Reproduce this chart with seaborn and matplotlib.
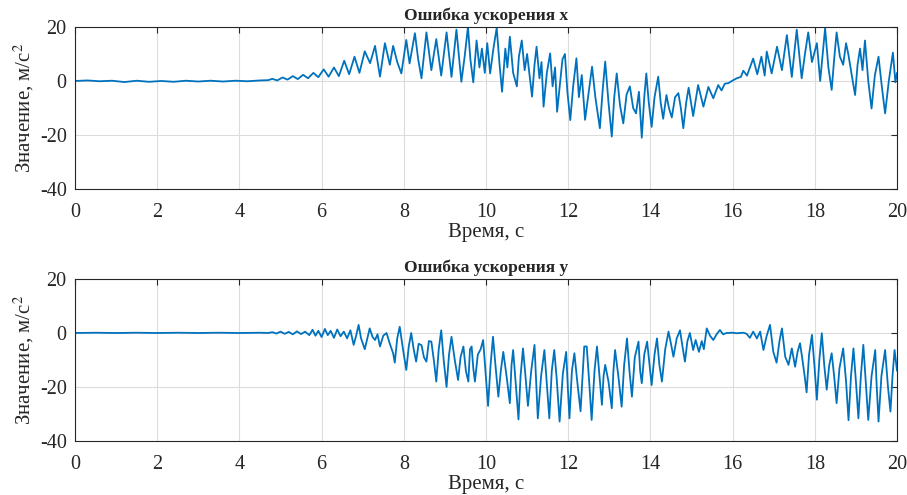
# plot.py
# Ошибка ускорения по осям x и y, две панели в стиле MATLAB

import numpy as np
import pandas as pd
import matplotlib
matplotlib.use("Agg")
import matplotlib.pyplot as plt
import seaborn as sns

# Ошибка ускорения x: пары (время, значение)
err_x_calm = [(0, 0.0), (0.3, 0.2), (0.6, -0.1), (0.9, 0.1), (1.2, -0.4), (1.5, 0.1),
              (1.8, -0.3), (2.1, 0.0), (2.4, -0.3), (2.7, 0.1), (3.0, -0.2), (3.3, 0.1),
              (3.6, -0.2), (3.9, 0.1), (4.2, -0.1), (4.5, 0.2), (4.7, 0.3)]
err_x_rise = [(4.8, 0.8), (4.92, 0.2), (5.05, 1.3), (5.17, 0.5), (5.3, 1.8), (5.42, 0.7),
              (5.55, 2.3), (5.67, 1.0), (5.8, 3.0), (5.92, 1.4), (6.05, 4.3), (6.17, 1.6),
              (6.3, 5.0), (6.42, 1.8), (6.55, 7.5), (6.67, 2.5), (6.8, 9.0), (6.92, 3.0),
              (7.05, 11.0), (7.18, 6.6), (7.3, 13.0), (7.42, 1.6), (7.54, 14.0), (7.66, 6.0),
              (7.74, 13.0), (7.84, 7.0), (7.94, 2.8), (8.06, 15.2), (8.14, 6.5), (8.27, 17.7),
              (8.35, 8.0), (8.43, 1.0), (8.55, 18.0), (8.67, 4.0), (8.79, 15.5), (8.91, 2.0),
              (9.04, 18.0), (9.16, 1.5), (9.28, 19.0), (9.4, -0.3), (9.48, 9.0), (9.56, 20.0)]
err_x_fall = [(9.62, 8.0), (9.69, -0.5), (9.77, 15.0), (9.84, 5.0), (9.9, 12.0), (9.97, 3.0),
              (10.03, 14.0), (10.1, 2.8), (10.18, 12.0), (10.26, 19.7), (10.33, 6.0),
              (10.39, -4.0), (10.47, 12.0), (10.52, 5.0), (10.58, 16.4), (10.66, 3.0),
              (10.75, -2.0), (10.8, 9.0), (10.87, 15.0), (10.94, 4.0), (11.0, 10.0),
              (11.06, 2.0), (11.12, -5.8), (11.18, 6.0), (11.23, 12.7), (11.3, 1.0),
              (11.35, 7.0), (11.4, -9.5), (11.48, 3.0), (11.56, 10.2), (11.62, -2.0),
              (11.68, 5.0), (11.73, -11.4), (11.8, -1.0), (11.86, 8.0), (11.92, 10.0),
              (11.98, -4.0), (12.05, -14.5), (12.12, -2.0), (12.2, 8.4), (12.26, -6.0),
              (12.33, 2.2), (12.41, -14.4), (12.5, -4.0), (12.58, 5.3), (12.66, -6.0),
              (12.77, -17.5), (12.84, -3.0), (12.9, 7.2), (12.98, -8.0), (13.06, -20.6),
              (13.12, -6.0), (13.18, 2.8), (13.26, -9.0), (13.34, -15.7), (13.42, -5.0),
              (13.5, -2.0), (13.58, -10.0), (13.65, -12.0), (13.72, -4.0), (13.79, -21.0),
              (13.85, -6.0), (13.9, 2.8), (13.96, -8.0), (14.03, -17.0), (14.1, -6.0),
              (14.19, 1.6), (14.25, -8.0), (14.31, -14.0), (14.39, -5.2), (14.45, -10.0),
              (14.52, -13.5), (14.6, -6.0), (14.68, -4.5), (14.74, -10.0), (14.8, -17.5),
              (14.87, -8.0), (14.93, -2.5), (15.04, -13.0), (15.16, -1.5), (15.29, -9.5),
              (15.41, -2.2), (15.53, -6.4), (15.65, -1.5), (15.73, -3.5), (15.81, -1.0),
              (15.9, -0.8), (15.98, 0.0)]
err_x_end = [(16.1, 1.0), (16.2, 1.5), (16.26, 3.8), (16.35, 2.0), (16.5, 8.3), (16.6, 2.5),
             (16.7, 9.0), (16.78, 2.0), (16.83, 10.9), (16.95, 2.8), (17.08, 12.7),
             (17.2, 4.0), (17.32, 17.0), (17.44, 1.5), (17.56, 19.0), (17.68, 1.0),
             (17.76, 10.0), (17.84, 18.0), (17.93, 7.0), (18.05, 14.0), (18.13, 0.0),
             (18.25, 19.5), (18.33, 5.0), (18.41, -3.3), (18.47, 8.0), (18.53, 18.0),
             (18.61, 9.0), (18.69, 6.0), (18.76, 14.0), (18.82, 9.5), (18.9, 2.0),
             (18.98, -5.2), (19.04, 6.0), (19.1, 12.0), (19.16, 4.0), (19.22, 15.0),
             (19.3, 0.0), (19.38, -10.2), (19.46, 2.0), (19.55, 9.0), (19.63, -2.0),
             (19.71, -12.0), (19.8, 0.0), (19.9, 10.5), (19.96, -0.5), (20.0, 3.0)]

# Ошибка ускорения y
err_y_calm = [(0, 0.0), (0.5, 0.1), (1.0, 0.0), (1.5, 0.1), (2.0, 0.0), (2.5, 0.1),
              (3.0, 0.0), (3.5, 0.1), (4.0, 0.0), (4.5, 0.1), (4.7, 0.0), (4.8, 0.3),
              (4.9, -0.2), (5.0, 0.5), (5.1, -0.3), (5.2, 0.4), (5.3, -0.5), (5.4, 0.6),
              (5.5, -0.4), (5.6, 0.5), (5.7, -0.8)]
err_y_rise = [(5.78, 1.2), (5.85, -1.0), (5.92, 0.8), (6.0, -1.5), (6.08, 1.5), (6.15, -0.8),
              (6.22, 0.8), (6.3, -1.8), (6.38, 1.3), (6.46, -1.2), (6.54, 0.5), (6.62, -2.0),
              (6.7, 1.0), (6.78, -4.4), (6.84, -1.0), (6.9, 3.0), (6.96, -2.0), (7.05, -6.0),
              (7.17, 1.7), (7.24, -1.5), (7.3, -2.6), (7.36, -0.5), (7.42, -5.0), (7.5, -1.0),
              (7.58, 0.0), (7.66, -4.0), (7.74, -7.5), (7.78, -11.0), (7.84, -2.0),
              (7.9, 2.3), (7.98, -6.0), (8.06, -13.7), (8.12, -5.0), (8.18, 0.0),
              (8.24, -6.0), (8.3, -10.6), (8.36, -4.0), (8.43, -4.5), (8.49, -9.0),
              (8.55, -10.6), (8.61, -3.0), (8.67, -3.2), (8.73, -10.0), (8.79, -18.0),
              (8.85, -6.0), (8.91, 1.0), (8.97, -10.0), (9.04, -20.0), (9.1, -8.0),
              (9.16, -1.4), (9.24, -10.0), (9.32, -17.4), (9.38, -9.0), (9.45, -5.0),
              (9.51, -14.0), (9.57, -18.0), (9.61, -6.0), (9.65, -5.0), (9.69, -13.0),
              (9.73, -18.0), (9.8, -8.0), (9.87, -6.0)]
err_y_deep = [(9.93, -2.6), (9.99, -15.0), (10.05, -27.0), (10.11, -12.0), (10.17, -1.4),
              (10.23, -12.0), (10.3, -23.6), (10.36, -14.0), (10.42, -7.0), (10.5, -16.0),
              (10.58, -26.0), (10.62, -12.0), (10.66, -6.3), (10.72, -18.0), (10.79, -32.0),
              (10.84, -16.0), (10.9, -5.7), (10.96, -16.0), (11.02, -27.0), (11.1, -14.0),
              (11.18, -4.4), (11.22, -18.0), (11.26, -31.6), (11.34, -16.0), (11.42, -6.3),
              (11.48, -19.0), (11.54, -31.6), (11.6, -14.0), (11.66, -6.3), (11.72, -17.0),
              (11.79, -32.8), (11.87, -15.0), (11.95, -7.0), (11.99, -20.0), (12.03, -31.6),
              (12.09, -14.0), (12.15, -7.5), (12.22, -18.0), (12.3, -29.0), (12.39, -5.0),
              (12.45, -5.0), (12.51, -18.0), (12.57, -32.2), (12.64, -14.0), (12.7, -5.0),
              (12.76, -16.0), (12.82, -26.6), (12.86, -16.0), (12.9, -11.8), (12.98, -18.0),
              (13.06, -27.9), (13.1, -14.0), (13.14, -6.3), (13.22, -16.0), (13.3, -27.3),
              (13.36, -12.0), (13.43, -2.0), (13.49, -14.0), (13.55, -23.6), (13.62, -9.0),
              (13.71, -3.2), (13.75, -14.0), (13.79, -18.6), (13.85, -8.0), (13.92, -3.2),
              (13.98, -12.0), (14.03, -19.3), (14.1, -8.0), (14.16, -2.0), (14.22, -12.0),
              (14.28, -18.0), (14.36, -6.0), (14.44, 0.5), (14.5, -4.0), (14.56, -8.8),
              (14.64, -2.0), (14.72, 1.0), (14.78, -5.0), (14.84, -10.6), (14.9, -3.0),
              (14.96, 0.0)]
err_y_end = [(15.04, -6.3), (15.1, -2.6), (15.18, -7.0), (15.25, -3.0), (15.3, -6.0),
             (15.37, 1.7), (15.45, -1.0), (15.53, -2.6), (15.61, -0.5), (15.69, 1.1),
             (15.77, -0.5), (15.85, 0.0), (16.0, 0.1), (16.1, -0.1), (16.26, 0.1),
             (16.34, -0.3), (16.42, -1.8), (16.5, 0.5), (16.59, -2.0), (16.67, 0.5),
             (16.75, -6.3), (16.83, -1.0), (16.91, 3.0), (16.99, -7.0), (17.07, -11.0),
             (17.14, -3.0), (17.2, 1.7), (17.28, -8.8), (17.36, -11.8), (17.44, -5.7),
             (17.52, -12.5), (17.58, -7.0), (17.64, -3.8), (17.7, -10.0), (17.76, -16.8),
             (17.8, -22.0), (17.86, -8.0), (17.93, -0.7), (17.99, -12.0), (18.05, -24.7),
             (18.11, -10.0), (18.17, -0.1), (18.23, -12.0), (18.29, -21.0), (18.35, -12.0),
             (18.41, -7.5), (18.47, -16.0), (18.53, -26.0), (18.6, -13.0), (18.69, -5.7),
             (18.76, -18.0), (18.82, -32.3), (18.88, -16.0), (18.94, -5.7), (19.0, -18.0),
             (19.06, -31.6), (19.12, -16.0), (19.18, -4.4), (19.24, -18.0), (19.3, -32.2),
             (19.38, -16.0), (19.47, -6.3), (19.5, -18.0), (19.55, -32.8), (19.62, -16.0),
             (19.71, -6.3), (19.78, -20.0), (19.84, -29.1), (19.89, -16.0), (19.94, -6.3),
             (20.0, -14.0)]

titles = ["Ошибка ускорения x", "Ошибка ускорения y"]
x_ticks = [0, 2, 4, 6, 8, 10, 12, 14, 16, 18, 20]
y_ticks = [-40, -20, 0, 20]

df_x = pd.DataFrame(err_x_calm + err_x_rise + err_x_fall + err_x_end, columns=["t", "v"])
df_y = pd.DataFrame(err_y_calm + err_y_rise + err_y_deep + err_y_end, columns=["t", "v"])

sns.set_theme(style="white")
plt.rcParams['font.family'] = ['Liberation Serif', 'DejaVu Serif']
plt.rcParams['mathtext.fontset'] = 'stix'
plt.rcParams['axes.unicode_minus'] = False

fig = plt.figure(figsize=(9.07, 4.95), dpi=100)
ax1 = fig.add_axes([0.0827, 0.6182, 0.9063, 0.3273])
ax2 = fig.add_axes([0.0827, 0.1091, 0.9063, 0.3273])

for ax, df, title in zip([ax1, ax2], [df_x, df_y], titles):
    sns.lineplot(data=df, x="t", y="v", ax=ax, color="#0072BD", lw=1.3,
                 estimator=None, sort=False)
    ax.set_xlim(0, 20)
    ax.set_ylim(-40, 20)
    ax.set_xticks(x_ticks)
    ax.set_yticks(y_ticks)
    ax.grid(True, color="#dcdcdc", lw=0.8)
    ax.tick_params(direction="in", top=True, right=True, length=4,
                   labelsize=14.5, colors="#262626", width=0.8)
    ax.tick_params(axis="x", pad=10)
    ax.tick_params(axis="y", pad=6)
    for s in ax.spines.values():
        s.set_color("#262626")
        s.set_linewidth(0.8)
    ax.set_title(title, fontsize=12.5, fontweight="bold", pad=5)
    ax.set_xlabel("Время, с", fontsize=15, labelpad=1)
    ax.set_ylabel("Значение, м/с$^2$", fontsize=15, labelpad=3)

fig.savefig("out.png", dpi=100)
